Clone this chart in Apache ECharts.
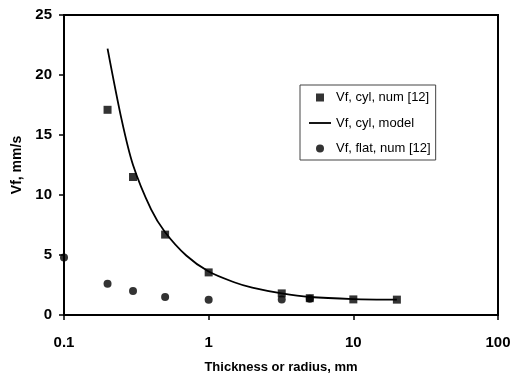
<!DOCTYPE html>
<html>
<head>
<meta charset="utf-8">
<script src="https://cdn.jsdelivr.net/npm/echarts@6/dist/echarts.min.js"></script>
<style>
html, body { margin: 0; padding: 0; background: #fff; }
#chart { width: 513px; height: 378px; }
</style>
</head>
<body>
<div id="chart"></div>
<script>
// values
var cylX = [0.2, 0.3, 0.5, 1, 3.2, 5, 10, 20];
var cylNum = [17.1, 11.5, 6.7, 3.55, 1.8, 1.4, 1.3, 1.28];

var modelX = [0.2, 0.25, 0.3, 0.4, 0.5, 0.7, 1, 1.5, 2, 3.2, 5, 10, 20];
var modelY = [22.2, 16.3, 12.5, 8.8, 6.9, 4.96, 3.62, 2.73, 2.28, 1.8, 1.5, 1.33, 1.28];

var flatX = [0.1, 0.2, 0.3, 0.5, 1, 3.2, 5];
var flatNum = [4.8, 2.6, 2.0, 1.5, 1.28, 1.3, 1.35];

function pairs(xs, ys) {
	var out = [];
	for (var i = 0; i < xs.length; i++) out.push([xs[i], ys[i]]);
	return out;
}

var font = 'Arial, "Liberation Sans", sans-serif';
var chart = echarts.init(document.getElementById('chart'));
chart.setOption({
	animation: false,
	grid: {
		left: 64, right: 15, top: 15, bottom: 63,
		outerBoundsMode: 'none',
		show: true, borderColor: '#000', borderWidth: 2
	},
	legend: {
		orient: 'vertical',
		left: 300, top: 85,
		itemWidth: 22, itemHeight: 8, itemGap: 12.5,
		borderColor: '#444', borderWidth: 1,
		padding: [6, 5, 5, 9],
		textStyle: { fontFamily: font, fontSize: 13, color: '#000' },
		data: [
			{ name: 'Vf, cyl, num [12]', icon: 'path://M0,0L10,0L10,10L0,10Z' },
			{ name: 'Vf, cyl, model', icon: 'path://M0,0L24,0L24,2L0,2Z' },
			{ name: 'Vf, flat, num [12]', icon: 'circle' }
		]
	},
	xAxis: {
		type: 'log', logBase: 10, min: 0.1, max: 100,
		name: 'Thickness or radius, mm', nameLocation: 'middle', nameGap: 46,
		nameTextStyle: { fontFamily: font, fontSize: 13, fontWeight: 'bold', color: '#000' },
		axisLine: { lineStyle: { color: '#000', width: 2 } },
		axisTick: { show: true, inside: false, length: 5, lineStyle: { color: '#000', width: 1.5 } },
		minorTick: { show: false },
		splitLine: { show: false },
		axisLabel: {
			margin: 20, color: '#000', fontFamily: font, fontSize: 15, fontWeight: 'bold',
			formatter: function (v) { return String(v); }
		}
	},
	yAxis: {
		type: 'value', min: 0, max: 25, interval: 5,
		name: 'Vf, mm/s', nameLocation: 'middle', nameGap: 40,
		nameTextStyle: { fontFamily: font, fontSize: 14, fontWeight: 'bold', color: '#000' },
		axisLine: { show: true, lineStyle: { color: '#000', width: 2 } },
		axisTick: { show: true, inside: false, length: 5, lineStyle: { color: '#000', width: 1.5 } },
		splitLine: { show: false },
		axisLabel: { margin: 12, color: '#000', fontFamily: font, fontSize: 15, fontWeight: 'bold' }
	},
	series: [
		{
			name: 'Vf, cyl, num [12]',
			type: 'scatter',
			symbol: 'rect', symbolSize: 8,
			itemStyle: { color: '#000' },
			data: pairs(cylX, cylNum),
			z: 3
		},
		{
			name: 'Vf, cyl, model',
			type: 'line',
			smooth: 0.3,
			symbol: 'none',
			lineStyle: { color: '#000', width: 1.8 },
			itemStyle: { color: '#000' },
			data: pairs(modelX, modelY),
			z: 2
		},
		{
			name: 'Vf, flat, num [12]',
			type: 'scatter',
			symbol: 'circle', symbolSize: 8,
			itemStyle: { color: '#000' },
			data: pairs(flatX, flatNum),
			z: 3
		}
	]
});
</script>
</body>
</html>
